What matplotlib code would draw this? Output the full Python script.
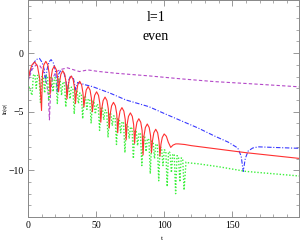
import matplotlib
matplotlib.use("Agg")
import matplotlib.pyplot as plt
from matplotlib.ticker import MultipleLocator

plt.rcParams['font.family'] = ['Liberation Serif', 'DejaVu Serif']

# red solid
red_t = [0, 1.5, 3, 5, 7, 8.7, 10.0,
         10.7, 11.7, 13.15, 14.6, 15.6, 16.3,
         17.0, 18.0, 19.4, 20.8, 21.8, 22.5,
         23.2, 24.2, 25.6, 27.0, 28.0, 28.7,
         29.4, 30.4, 31.8, 33.2, 34.2, 34.9,
         35.6, 36.6, 38.0, 39.4, 40.4, 41.1,
         41.8, 42.8, 44.2, 45.6, 46.6, 47.3,
         48.0, 49.0, 50.4, 51.8, 52.8, 53.5,
         54.2, 55.2, 56.6, 58.0, 59.0, 59.7,
         60.4, 61.4, 62.8, 64.2, 65.2, 65.9,
         66.6, 67.6, 69.0, 70.4, 71.4, 72.1,
         72.8, 73.8, 75.2, 76.6, 77.6, 78.3,
         79.0, 80.0, 81.4, 82.8, 83.8, 84.5,
         85.2, 86.2, 87.6, 89.0, 90.0, 90.7,
         91.4, 92.4, 93.8, 95.2, 96.2, 96.9,
         97.6, 98.6, 100.0, 101.6, 103.0, 104.8,
         106.5, 108.5, 110.5, 115, 120, 140, 160, 180, 200]
red_y = [-2.4, -1.5, -1.0, -0.75, -1.1, -2.2, -4.9,
         -1.7, -1.0, -0.7, -1.0, -1.7, -3.5,
         -2.1, -1.4, -1.1, -1.4, -2.1, -3.3,
         -2.5, -1.8, -1.5, -1.8, -2.5, -3.9,
         -2.95, -2.25, -1.95, -2.25, -2.95, -4.3,
         -3.4, -2.7, -2.4, -2.7, -3.4, -4.6,
         -3.85, -3.15, -2.85, -3.15, -3.85, -5.0,
         -4.3, -3.6, -3.3, -3.6, -4.3, -5.9,
         -4.75, -4.05, -3.75, -4.05, -4.75, -6.4,
         -5.2, -4.5, -4.2, -4.5, -5.2, -6.8,
         -5.65, -4.95, -4.65, -4.95, -5.65, -7.4,
         -6.1, -5.4, -5.1, -5.4, -6.1, -7.7,
         -6.6, -5.9, -5.6, -5.9, -6.6, -8.7,
         -7.05, -6.35, -6.05, -6.35, -7.05, -8.5,
         -7.5, -6.8, -6.5, -6.8, -7.5, -8.8,
         -7.8, -7.2, -6.9, -7.1, -7.6, -8.05,
         -7.85, -7.75, -7.75, -7.8, -7.9, -8.2, -8.5, -8.75, -9.0]

# blue dash-dot
blue_t = [0, 2, 4, 6, 8.5, 10.5, 12, 13, 14, 15.5, 17, 19, 20.5, 21.5,
          22.5, 24.3, 26.5, 28, 29, 30, 31.5, 33.5, 35, 36.5, 38, 42,
          47.5, 60, 72, 88.8, 100, 113, 125, 137, 147, 154, 156.5, 158,
          159.5, 161.6, 165, 169, 180, 200]
blue_y = [-2.4, -1.5, -0.9, -0.55, -0.45, -0.8, -1.4, -2.4, -1.4, -0.75,
          -0.55, -0.9, -1.7, -3.3, -1.8, -1.45, -1.7, -2.4, -3.5, -2.3,
          -1.9, -2.2, -3.1, -2.5, -2.55, -2.7, -2.86, -3.4, -4.0, -4.57,
          -5.15, -5.8, -6.4, -7.08, -7.6, -8.1, -8.8, -10.1, -9.0, -8.36,
          -8.1, -8.0, -8.05, -8.13]

# purple dashed
purple_t = [0, 3, 6, 9, 11.5, 13.5, 15, 15.8, 16.6, 18, 20.5, 24, 29, 33,
            37.8, 41, 44, 48, 52.4, 65, 80, 88.8, 113, 137, 161.6, 200]
purple_y = [-2.4, -1.4, -1.0, -1.1, -1.6, -2.4, -3.6, -5.7, -3.4, -2.2,
            -1.6, -1.4, -1.25, -1.4, -1.57, -1.5, -1.43, -1.5, -1.57,
            -1.72, -1.86, -1.94, -2.2, -2.43, -2.6, -2.88]

# green dotted
green_t = [0,
           3.0, 4.0, 5.1, 6.1, 7.1, 8.2, 9.2, 10.2, 11.3, 12.3, 13.3, 14.4,
           15.4, 16.4, 17.5, 18.5, 19.5, 20.6, 21.6, 22.6, 23.7, 24.7, 25.7,
           26.8, 27.8, 28.8, 29.9, 30.9, 31.9, 33.0, 34.0, 35.0, 36.1, 37.1,
           38.1, 39.2, 40.2, 41.2, 42.3, 43.3, 44.3, 45.4, 46.4, 47.4, 48.5,
           49.5, 50.5, 51.6, 52.6, 53.6, 54.7, 55.7, 56.7, 57.8, 58.8, 59.8,
           60.9, 61.9, 62.9, 64.0, 65.0, 66.0, 67.1, 68.1, 69.1, 70.2, 71.2,
           72.2, 73.3, 74.3, 75.3, 76.4, 77.4, 78.4, 79.5, 80.5, 81.5, 82.6,
           83.6, 84.6, 85.7, 86.7, 87.7, 88.8, 89.8, 90.8, 91.9, 92.9, 93.9,
           95.0, 96.0, 97.0, 98.1, 99.1, 100.1, 101.2, 102.2, 103.2, 104.3,
           105.3, 106.3, 107.4, 108.4, 109.4, 110.5, 111.5, 112.5, 113.6,
           114.6, 116, 118, 125, 140, 160, 180, 200]
green_y = [-2.6,
           -3.6, -1.9, -1.8, -3.0, -1.9, -1.9, -4.2, -2.0, -2.0, -3.4, -1.9,
           -2.0, -4.0, -2.0, -2.1, -3.3, -2.1, -2.15, -4.3, -2.2, -2.3, -3.6,
           -2.45, -2.55, -4.6, -2.7, -2.75, -3.9, -2.9, -3.0, -5.2, -3.15,
           -3.25, -4.3, -3.4, -3.5, -5.6, -3.65, -3.75, -4.8, -3.9, -4.0,
           -6.0, -4.1, -4.2, -5.2, -4.35, -4.45, -6.6, -4.6, -4.7, -5.7,
           -4.85, -4.95, -7.2, -5.1, -5.2, -6.2, -5.35, -5.45, -7.8, -5.6,
           -5.7, -6.8, -5.85, -5.95, -8.5, -6.1, -6.2, -7.3, -6.3, -6.45,
           -9.0, -6.6, -6.7, -7.9, -6.8, -6.9, -9.6, -7.05, -7.15, -8.4,
           -7.3, -7.4, -10.3, -7.5, -7.6, -9.0, -7.75, -7.85, -10.9, -8.0,
           -8.1, -9.6, -8.25, -8.35, -11.4, -8.4, -8.5, -10.2, -8.6, -8.7,
           -12.0, -8.75, -8.85, -11.0, -8.95, -9.0, -11.7, -9.3, -9.37,
           -9.45, -9.7, -10.1, -10.3, -10.5]

fig = plt.figure(figsize=(3.0, 2.42), dpi=100)
ax = fig.add_axes([0.093, 0.103, 0.904, 0.895])

lw = 0.8
ax.plot(purple_t, purple_y, color='#b448c8', lw=lw, dashes=(3, 2))
ax.plot(blue_t, blue_y, color='#3838ff', lw=lw, dashes=(4, 1.5, 1, 1.5))
ax.plot(green_t, green_y, color='#3cf03c', lw=1.0, dashes=(1, 1.3))
ax.plot(red_t, red_y, color='#ff3030', lw=lw)

ax.set_xlim(0, 199)
ax.set_ylim(-14, 4.5)
ax.xaxis.set_major_locator(MultipleLocator(50))
ax.xaxis.set_minor_locator(MultipleLocator(10))
ax.yaxis.set_major_locator(MultipleLocator(5))
ax.yaxis.set_minor_locator(MultipleLocator(1))
ax.tick_params(which='both', direction='in', top=True, right=True,
               colors='#888888', labelcolor='black', labelsize=7, pad=3)
ax.tick_params(which='major', length=4, width=0.6)
ax.tick_params(which='minor', length=2, width=0.5)
for s in ax.spines.values():
    s.set_color('#888888')
    s.set_linewidth(0.7)

ax.text(0.472, 0.92, 'l=1', transform=ax.transAxes, ha='center', va='center',
        fontsize=10)
ax.text(0.472, 0.835, 'even', transform=ax.transAxes, ha='center', va='center',
        fontsize=10)
fig.text(5 / 300, 1 - 108 / 242, 'ln|φ|', rotation=90, ha='center',
         va='center', fontsize=4.5)
fig.text(162 / 300, 1 - 238 / 242, 't', ha='center', va='center', fontsize=5)

fig.savefig('out.png', dpi=100)
